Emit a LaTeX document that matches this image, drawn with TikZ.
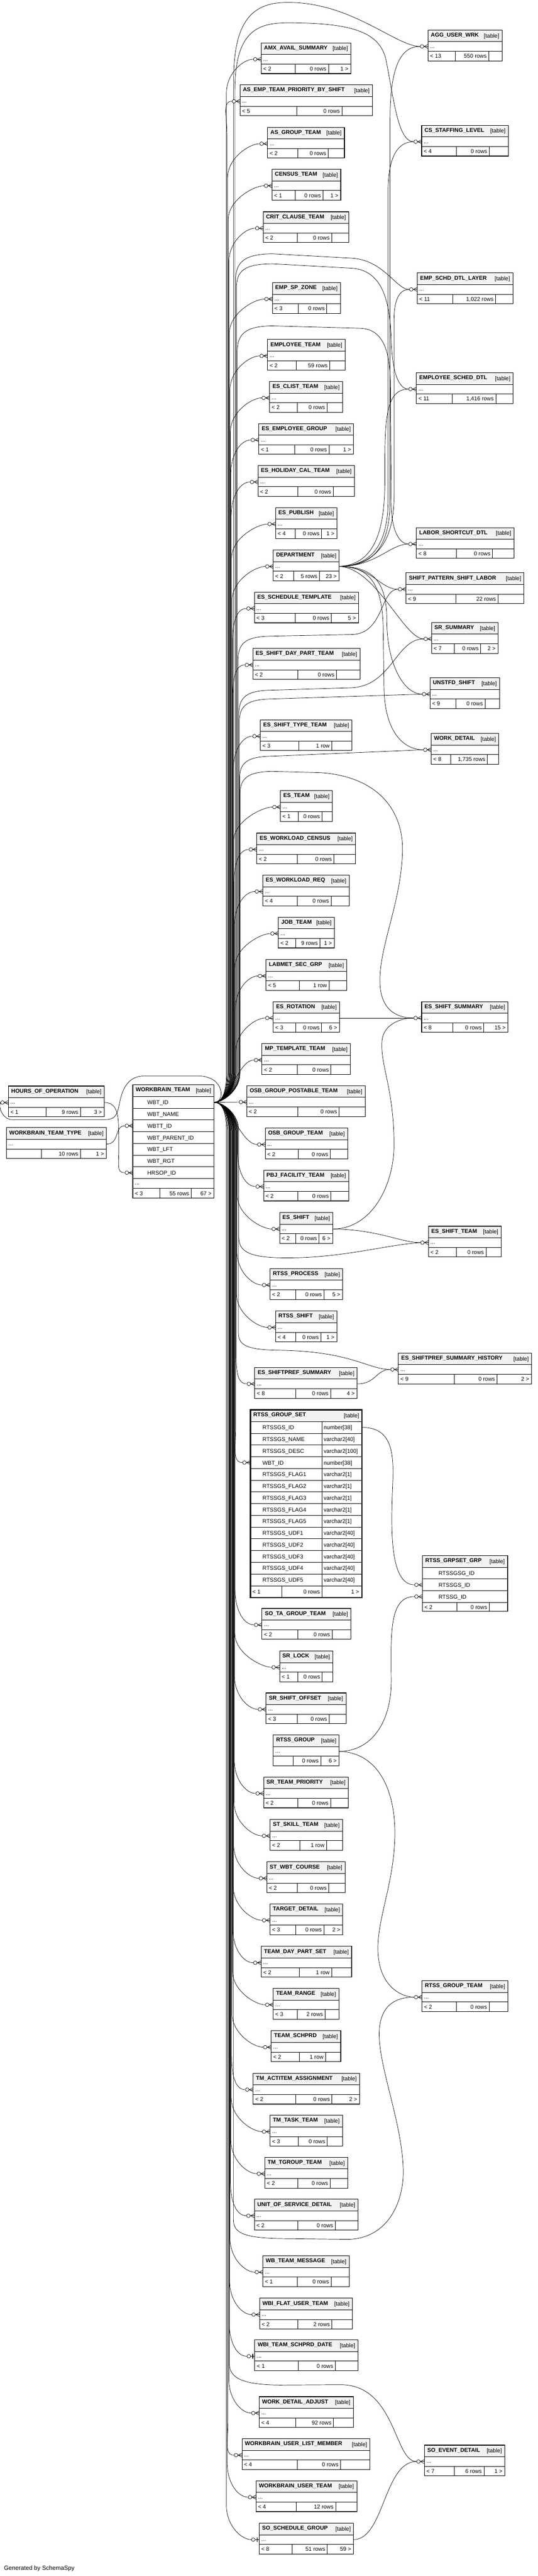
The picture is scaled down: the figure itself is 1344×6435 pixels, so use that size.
\documentclass[tikz,border=0pt]{standalone}
\usepackage{fontspec}
\setmainfont{Liberation Sans}
\usetikzlibrary{calc}
\definecolor{hdr}{HTML}{F2F2F2}
\pgfdeclarelayer{paper}
\pgfdeclarelayer{bg}
\pgfsetlayers{paper,bg,main}
\tikzset{
  edge/.style={draw=black, line width=0.9pt},
  boxline/.style={draw=black, line width=1.4pt},
  cellline/.style={draw=black, line width=1pt},
  tf/.style={font=\fontsize{14}{16}\selectfont, inner sep=0pt},
  tfb/.style={font=\bfseries\fontsize{14}{16}\selectfont, inner sep=0pt},
}
\newcommand{\da}{0.38}
\newcommand{\db}{0.75}
\newcommand{\dv}[2]{\renewcommand{\da}{#1}\renewcommand{\db}{#2}}
% id, x, y, w, name, left, mid, right
\newcommand{\tbl}[8]{%
 \begin{scope}[shift={(#2,#3)}]
  \fill[white] (0,0) rectangle (#4,77);
  \fill[hdr] (0,0) rectangle (#4,29);
  \draw[cellline] (0,29) -- (#4,29) (0,53) -- (#4,53)
     ({\da*#4},53) -- ({\da*#4},77) ({\db*#4},53) -- ({\db*#4},77);
  \draw[boxline] (0,0) rectangle (#4,77);
  \node[tfb, anchor=base west] (#1-name) at (7,17) {\detokenize{#5}};
  \node[tf, anchor=base east] (#1-tag) at (#4-7,19) {[table]};
  \node[tf, anchor=base west] (#1-dots) at (5,45) {...};
  \node[tf, anchor=base west] (#1-l) at (5,70) {#6};
  \node[tf, anchor=base east] (#1-m) at ({\db*#4-5},70) {#7};
  \node[tf, anchor=base east] (#1-r) at (#4-6,70) {#8};
  \coordinate (#1-in) at (0,41);
  \coordinate (#1-a) at (-20,41);
  \coordinate (#1-out) at (#4,41);
 \end{scope}\dv{0.38}{0.75}}
\newcommand{\crow}[1]{%
  \draw[edge] ($(#1-in)+(-10,0)$) -- ($(#1-in)+(0,-5)$);
  \draw[edge] ($(#1-in)+(-10,0)$) -- ($(#1-in)+(0,5)$);
  \draw[edge] ($(#1-in)+(-10.5,0)$) -- (#1-in);
  \draw[edge,fill=white] ($(#1-in)+(-15,0)$) circle[radius=4.5pt];}
\newcommand{\oneo}[1]{%
  \draw[edge] ($(#1-in)+(-10.5,0)$) -- (#1-in);
  \draw[line width=2pt] ($(#1-in)+(-5,-6)$) -- ($(#1-in)+(-5,6)$);
  \draw[edge,fill=white] ($(#1-in)+(-15,0)$) circle[radius=4.5pt];}
\newcommand{\eup}[3]{\draw[edge] (wbt-out) .. controls +(22,0) and +(0,45) .. (#2,2680) -- (#2,#3+85) .. controls +(0,-50) and +(-25,0) .. (#1-a);}
\newcommand{\edn}[3]{\draw[edge] (wbt-out) .. controls +(22,0) and +(0,-45) .. (#2,2826) -- (#2,#3-85) .. controls +(0,50) and +(-25,0) .. (#1-a);}
\newcommand{\edir}[1]{\draw[edge] (wbt-out) .. controls +(40,0) and +(-40,0) .. (#1-a);}
\begin{document}
\begin{tikzpicture}[x=1pt,y=-1pt]
\begin{pgfonlayer}{paper}
\fill[white] (0,0) rectangle (1344,6435);
\end{pgfonlayer}
\useasboundingbox (0,0) rectangle (1344,6435);

% ---------------- middle column ----------------
\tbl{amx}{653}{107}{224}{AMX_AVAIL_SUMMARY}{< 2}{0 rows}{1 >}
\dv{0.43}{0.77}\tbl{asemp}{600}{212}{331}{AS_EMP_TEAM_PRIORITY_BY_SHIFT}{< 5}{0 rows}{}
\dv{0.39}{0.79}\tbl{asg}{669}{318}{192}{AS_GROUP_TEAM}{< 2}{0 rows}{}
\dv{0.34}{0.74}\tbl{cen}{680}{423}{172}{CENSUS_TEAM}{< 1}{0 rows}{1 >}
\dv{0.40}{0.80}\tbl{crit}{658}{529}{214}{CRIT_CLAUSE_TEAM}{< 2}{0 rows}{}
\dv{0.38}{0.80}\tbl{esz}{681}{706}{170}{EMP_SP_ZONE}{< 3}{0 rows}{}
\dv{0.37}{0.80}\tbl{emt}{669}{848}{194}{EMPLOYEE_TEAM}{< 2}{59 rows}{}
\dv{0.38}{0.79}\tbl{ecl}{674}{953}{182}{ES_CLIST_TEAM}{< 2}{0 rows}{}
\dv{0.38}{0.74}\tbl{eeg}{647}{1058}{237}{ES_EMPLOYEE_GROUP}{< 1}{0 rows}{1 >}
\dv{0.41}{0.78}\tbl{ehc}{645}{1163}{241}{ES_HOLIDAY_CAL_TEAM}{< 2}{0 rows}{}
\dv{0.32}{0.75}\tbl{epu}{689}{1268}{153}{ES_PUBLISH}{< 4}{0 rows}{1 >}
\dv{0.31}{0.70}\tbl{dep}{683}{1374}{165}{DEPARTMENT}{< 2}{5 rows}{23 >}
\dv{0.39}{0.74}\tbl{estpl}{636}{1479}{260}{ES_SCHEDULE_TEMPLATE}{< 3}{0 rows}{5 >}
\dv{0.42}{0.78}\tbl{esdp}{632}{1620}{268}{ES_SHIFT_DAY_PART_TEAM}{< 2}{0 rows}{}
\dv{0.42}{0.78}\tbl{estt}{651}{1798}{229}{ES_SHIFT_TYPE_TEAM}{< 3}{1 row}{}
\dv{0.34}{0.80}\tbl{etm}{701}{1975}{130}{ES_TEAM}{< 1}{0 rows}{}
\dv{0.41}{0.78}\tbl{ewc}{642}{2081}{247}{ES_WORKLOAD_CENSUS}{< 2}{0 rows}{}
\dv{0.40}{0.79}\tbl{ewr}{657}{2186}{216}{ES_WORKLOAD_REQ}{< 4}{0 rows}{}
\dv{0.31}{0.74}\tbl{job}{696}{2291}{140}{JOB_TEAM}{< 2}{9 rows}{1 >}
\dv{0.41}{0.78}\tbl{lab}{665}{2397}{202}{LABMET_SEC_GRP}{< 5}{1 row}{}
\dv{0.34}{0.73}\tbl{esr}{683}{2502}{166}{ES_ROTATION}{< 3}{0 rows}{6 >}
\dv{0.40}{0.78}\tbl{mpt}{655}{2607}{221}{MP_TEMPLATE_TEAM}{< 2}{0 rows}{}
\dv{0.43}{0.78}\tbl{ogp}{617}{2712}{296}{OSB_GROUP_POSTABLE_TEAM}{< 2}{0 rows}{}
\dv{0.40}{0.79}\tbl{ogt}{663}{2818}{206}{OSB_GROUP_TEAM}{< 2}{0 rows}{}
\dv{0.40}{0.79}\tbl{pbj}{659}{2923}{213}{PBJ_FACILITY_TEAM}{< 2}{0 rows}{}
\dv{0.30}{0.74}\tbl{esh}{699}{3029}{133}{ES_SHIFT}{< 2}{0 rows}{6 >}
\dv{0.35}{0.74}\tbl{rtp}{675}{3169}{182}{RTSS_PROCESS}{< 2}{0 rows}{5 >}
\dv{0.33}{0.74}\tbl{rts}{689}{3275}{153}{RTSS_SHIFT}{< 4}{0 rows}{1 >}
\dv{0.40}{0.74}\tbl{esp}{637}{3416}{256}{ES_SHIFTPREF_SUMMARY}{< 8}{0 rows}{4 >}
\dv{0.40}{0.79}\tbl{sota}{655}{4018}{222}{SO_TA_GROUP_TEAM}{< 2}{0 rows}{}
\dv{0.34}{0.80}\tbl{srl}{699}{4124}{133}{SR_LOCK}{< 1}{0 rows}{}
\dv{0.39}{0.79}\tbl{srso}{665}{4229}{200}{SR_SHIFT_OFFSET}{< 3}{0 rows}{}
\dv{0.30}{0.72}\tbl{rg}{683}{4334}{165}{RTSS_GROUP}{}{0 rows}{6 >}
\dv{0.40}{0.79}\tbl{srtp}{659}{4439}{212}{SR_TEAM_PRIORITY}{< 2}{0 rows}{}
\dv{0.41}{0.78}\tbl{sts}{675}{4545}{181}{ST_SKILL_TEAM}{< 2}{1 row}{}
\dv{0.39}{0.79}\tbl{stw}{667}{4651}{196}{ST_WBT_COURSE}{< 2}{0 rows}{}
\dv{0.35}{0.74}\tbl{tgd}{675}{4756}{182}{TARGET_DETAIL}{< 3}{0 rows}{2 >}
\dv{0.42}{0.78}\tbl{tdps}{653}{4862}{226}{TEAM_DAY_PART_SET}{< 2}{1 row}{}
\dv{0.37}{0.79}\tbl{trg}{683}{4967}{164}{TEAM_RANGE}{< 3}{2 rows}{}
\dv{0.40}{0.78}\tbl{tsp}{678}{5073}{174}{TEAM_SCHPRD}{< 2}{1 row}{}
\dv{0.40}{0.74}\tbl{tma}{633}{5179}{266}{TM_ACTITEM_ASSIGNMENT}{< 2}{0 rows}{2 >}
\dv{0.39}{0.79}\tbl{tmt}{675}{5284}{181}{TM_TASK_TEAM}{< 3}{0 rows}{}
\dv{0.40}{0.79}\tbl{ttg}{662}{5389}{207}{TM_TGROUP_TEAM}{< 2}{0 rows}{}
\dv{0.42}{0.78}\tbl{uos}{636}{5494}{259}{UNIT_OF_SERVICE_DETAIL}{< 2}{0 rows}{}
\dv{0.40}{0.79}\tbl{wbm}{657}{5635}{216}{WB_TEAM_MESSAGE}{< 1}{0 rows}{}
\dv{0.41}{0.78}\tbl{wfu}{649}{5741}{232}{WBI_FLAT_USER_TEAM}{< 2}{2 rows}{}
\dv{0.42}{0.78}\tbl{wtsd}{637}{5845}{258}{WBI_TEAM_SCHPRD_DATE}{< 1}{0 rows}{}
\dv{0.39}{0.79}\tbl{wda}{648}{5987}{235}{WORK_DETAIL_ADJUST}{< 4}{92 rows}{}
\dv{0.43}{0.77}\tbl{wulm}{605}{6092}{320}{WORKBRAIN_USER_LIST_MEMBER}{< 4}{0 rows}{}
\dv{0.40}{0.79}\tbl{wut}{640}{6197}{252}{WORKBRAIN_USER_TEAM}{< 4}{12 rows}{}
\dv{0.35}{0.72}\tbl{ssg}{648}{6303}{236}{SO_SCHEDULE_GROUP}{< 8}{51 rows}{59 >}

% ---------------- right column ----------------
\dv{0.37}{0.82}\tbl{agg}{1070}{75}{185}{AGG_USER_WRK}{< 13}{550 rows}{}
\dv{0.40}{0.78}\tbl{csl}{1054}{313}{217}{CS_STAFFING_LEVEL}{< 4}{0 rows}{}
\dv{0.37}{0.82}\tbl{esdl}{1043}{682}{239}{EMP_SCHD_DTL_LAYER}{< 11}{1,022 rows}{}
\dv{0.37}{0.82}\tbl{esd}{1041}{931}{242}{EMPLOYEE_SCHED_DTL}{< 11}{1,416 rows}{}
\dv{0.41}{0.78}\tbl{lsd}{1041}{1318}{244}{LABOR_SHORTCUT_DTL}{< 8}{0 rows}{}
\dv{0.42}{0.78}\tbl{spsl}{1015}{1431}{295}{SHIFT_PATTERN_SHIFT_LABOR}{< 9}{22 rows}{}
\dv{0.34}{0.74}\tbl{srs}{1079}{1555}{166}{SR_SUMMARY}{< 7}{0 rows}{2 >}
\dv{0.37}{0.79}\tbl{uns}{1075}{1693}{174}{UNSTFD_SHIFT}{< 9}{0 rows}{}
\dv{0.29}{0.83}\tbl{wd}{1078}{1832}{169}{WORK_DETAIL}{< 8}{1,735 rows}{}
\dv{0.36}{0.72}\tbl{ess}{1054}{2502}{216}{ES_SHIFT_SUMMARY}{< 8}{0 rows}{15 >}
\dv{0.38}{0.79}\tbl{esst}{1071}{3063}{182}{ES_SHIFT_TEAM}{< 2}{0 rows}{}
\dv{0.42}{0.74}\tbl{hist}{996}{3380}{333}{ES_SHIFTPREF_SUMMARY_HISTORY}{< 9}{0 rows}{2 >}
\dv{0.40}{0.78}\tbl{rgt}{1055}{4948}{215}{RTSS_GROUP_TEAM}{< 2}{0 rows}{}
\dv{0.37}{0.74}\tbl{sed}{1061}{6108}{201}{SO_EVENT_DETAIL}{< 7}{6 rows}{1 >}

% ---------------- left ----------------
\dv{0.39}{0.75}\tbl{hoo}{21}{2713}{240}{HOURS_OF_OPERATION}{< 1}{9 rows}{3 >}
\dv{0.35}{0.74}\tbl{wtt}{16}{2817}{250}{WORKBRAIN_TEAM_TYPE}{}{10 rows}{1 >}

% WORKBRAIN_TEAM
\begin{scope}[shift={(332,2710)}]
 \fill[white] (0,0) rectangle (203,283);
 \fill[hdr] (0,0) rectangle (203,29);
 \foreach \i in {0,...,7} \draw[cellline] (0,29+29.3*\i) -- (203,29+29.3*\i);
 \draw[cellline] (0,258) -- (203,258) (67,258) -- (67,283) (146,258) -- (146,283);
 \draw[boxline] (0,0) rectangle (203,283);
 \node[tfb,anchor=base west] (wbt-name) at (7,17) {WORKBRAIN\_TEAM};
 \node[tf,anchor=base east] (wbt-tag) at (196,19) {[table]};
 \node[tf,anchor=base west] (wbt-c1) at (36,49) {WBT\_ID};
 \node[tf,anchor=base west] (wbt-c2) at (36,78.3) {WBT\_NAME};
 \node[tf,anchor=base west] (wbt-c3) at (36,107.6) {WBTT\_ID};
 \node[tf,anchor=base west] (wbt-c4) at (36,136.9) {WBT\_PARENT\_ID};
 \node[tf,anchor=base west] (wbt-c5) at (36,166.2) {WBT\_LFT};
 \node[tf,anchor=base west] (wbt-c6) at (36,195.5) {WBT\_RGT};
 \node[tf,anchor=base west] (wbt-c7) at (36,224.8) {HRSOP\_ID};
 \node[tf,anchor=base west] (wbt-dots) at (5,250) {...};
 \node[tf,anchor=base west] (wbt-l) at (5,276) {< 3};
 \node[tf,anchor=base east] (wbt-m) at (141,276) {55 rows};
 \node[tf,anchor=base east] (wbt-r) at (197,276) {67 >};
 \coordinate (wbt-out) at (203,43.65);
 \coordinate (wbtt-in) at (0,102.25);
 \coordinate (wbtt-a) at (-20,102.25);
 \coordinate (hrsop-in) at (0,219.45);
 \coordinate (hrsop-a) at (-20,219.45);
\end{scope}

% RTSS_GROUP_SET
\begin{scope}[shift={(626,3522)}]
 \fill[white] (0,0) rectangle (279,469);
 \fill[hdr] (0,0) rectangle (279,29);
 \foreach \i in {0,...,14} \draw[cellline] (0,29+29.3*\i) -- (279,29+29.3*\i);
 \draw[cellline] (179,29) -- (179,469) (78,439.2) -- (78,469);
 \draw[line width=3pt] (0,0) rectangle (279,469);
 \node[tfb,anchor=base west] (rgs-name) at (7,17) {RTSS\_GROUP\_SET};
 \node[tf,anchor=base east] (rgs-tag) at (272,19) {[table]};
 \foreach \n/\t [count=\k from 0] in {RTSSGS\_ID/number[38], RTSSGS\_NAME/varchar2[40], RTSSGS\_DESC/varchar2[100], WBT\_ID/number[38], RTSSGS\_FLAG1/varchar2[1], RTSSGS\_FLAG2/varchar2[1], RTSSGS\_FLAG3/varchar2[1], RTSSGS\_FLAG4/varchar2[1], RTSSGS\_FLAG5/varchar2[1], RTSSGS\_UDF1/varchar2[40], RTSSGS\_UDF2/varchar2[40], RTSSGS\_UDF3/varchar2[40], RTSSGS\_UDF4/varchar2[40], RTSSGS\_UDF5/varchar2[40]} {
   \node[tf,anchor=base west] (rgs-c\k) at (30,49+29.3*\k) {\n};
   \node[tf,anchor=base west] (rgs-t\k) at (183,49+29.3*\k) {\t};
 }
 \node[tf,anchor=base west] (rgs-l) at (5,459) {< 1};
 \node[tf,anchor=base east] (rgs-m) at (174,459) {0 rows};
 \node[tf,anchor=base east] (rgs-r) at (272,459) {1 >};
 \coordinate (rgs-out) at (279,43.65);
 \coordinate (rgs-in) at (0,131.55);
 \coordinate (rgs-a) at (-20,131.55);
\end{scope}

% RTSS_GRPSET_GRP
\begin{scope}[shift={(1056,3886)}]
 \fill[white] (0,0) rectangle (213,139);
 \fill[hdr] (0,0) rectangle (213,29);
 \foreach \i in {0,...,3} \draw[cellline] (0,29+29.3*\i) -- (213,29+29.3*\i);
 \draw[cellline] (86,116.9) -- (86,139) (167,116.9) -- (167,139);
 \draw[boxline] (0,0) rectangle (213,139);
 \node[tfb,anchor=base west] (rgg-name) at (7,17) {RTSS\_GRPSET\_GRP};
 \node[tf,anchor=base east] (rgg-tag) at (206,19) {[table]};
 \node[tf,anchor=base west] (rgg-c1) at (40,49) {RTSSGSG\_ID};
 \node[tf,anchor=base west] (rgg-c2) at (40,78.3) {RTSSGS\_ID};
 \node[tf,anchor=base west] (rgg-c3) at (40,107.6) {RTSSG\_ID};
 \node[tf,anchor=base west] (rgg-l) at (5,134) {< 2};
 \node[tf,anchor=base east] (rgg-m) at (162,134) {0 rows};
 \node[tf,anchor=base east] (rgg-r) at (207,134) {};
 \coordinate (rgg2-in) at (0,72.95);
 \coordinate (rgg2-a) at (-20,72.95);
 \coordinate (rgg3-in) at (0,102.25);
 \coordinate (rgg3-a) at (-20,102.25);
\end{scope}

\node[anchor=base west, font=\fontsize{15}{17}\selectfont, inner sep=0pt] (gen) at (10,6420) {Generated by SchemaSpy};

% ---------------- connectors ----------------
\begin{pgfonlayer}{bg}
% WORKBRAIN_TEAM to middle column (above)
\eup{amx}{566}{148}
\eup{asemp}{567.5}{253}
\eup{asg}{569}{359}
\eup{cen}{570.5}{464}
\eup{crit}{572}{570}
\eup{esz}{573.5}{747}
\eup{emt}{575}{889}
\eup{ecl}{576}{994}
\eup{eeg}{577}{1099}
\eup{ehc}{578}{1204}
\eup{epu}{579}{1309}
\eup{dep}{580}{1415}
\eup{estpl}{581}{1520}
\eup{esdp}{582}{1661}
\eup{estt}{583}{1839}
\eup{etm}{584}{2016}
\eup{ewc}{585}{2122}
\eup{ewr}{586}{2227}
\eup{job}{587}{2332}
\eup{lab}{588}{2438}
\eup{esr}{589}{2543}
\edir{mpt}
\draw[edge] (wbt-out) -- (ogp-a);
\edir{ogt}
% below
\edn{pbj}{594}{2964}
\edn{esh}{593}{3070}
\edn{rtp}{592}{3210}
\edn{rts}{591}{3316}
\edn{esp}{590}{3457}
\edn{rgs}{589}{3654}
\edn{sota}{588}{4059}
\edn{srl}{587}{4165}
\edn{srso}{586}{4270}
\edn{srtp}{585.5}{4480}
\edn{sts}{585}{4586}
\edn{stw}{584}{4692}
\edn{tgd}{583}{4797}
\edn{tdps}{582}{4903}
\edn{trg}{581}{5008}
\edn{tsp}{580}{5114}
\edn{tma}{579}{5220}
\edn{tmt}{578}{5325}
\edn{ttg}{577}{5430}
\edn{uos}{576}{5535}
\edn{wbm}{575}{5676}
\edn{wfu}{574}{5782}
\edn{wtsd}{573}{5886}
\edn{wda}{572}{6028}
\edn{wulm}{570}{6133}
\edn{wut}{568}{6238}
\edn{ssg}{566}{6344}
% WORKBRAIN_TEAM to right column
\draw[edge] (wbt-out) .. controls +(22,0) and +(0,45) .. (584,2680) -- (584,200) .. controls (584,40) and (640,6) .. (720,6) .. controls (880,6) and (990,116) .. (agg-a);
\draw[edge] (wbt-out) .. controls +(22,0) and +(0,45) .. (587,2680) -- (587,230) .. controls (587,80) and (640,57) .. (720,57) .. controls (880,57) and (950,80) .. (965,150) .. controls (985,250) and (995,354) .. (csl-a);
\draw[edge] (wbt-out) .. controls +(22,0) and +(0,45) .. (589,2680) -- (589,700) .. controls (589,655) and (610,635) .. (680,634) -- (880,645) .. controls (960,650) and (990,723) .. (esdl-a);
\draw[edge] (wbt-out) .. controls +(22,0) and +(0,45) .. (591,2680) -- (591,720) .. controls (591,675) and (612,660) .. (680,659) -- (880,670) .. controls (960,676) and (975,760) .. (978,850) .. controls (981,940) and (1000,972) .. (esd-a);
\draw[edge] (wbt-out) .. controls +(22,0) and +(0,45) .. (593,2680) -- (593,880) .. controls (593,835) and (612,815) .. (680,814) -- (900,820) .. controls (960,822) and (975,880) .. (976,960) -- (978,1260) .. controls (979,1330) and (1000,1359) .. (lsd-a);
\draw[edge] (wbt-out) .. controls +(22,0) and +(0,45) .. (595,2680) -- (595,1650) .. controls (595,1605) and (615,1590) .. (680,1589) -- (880,1585) .. controls (960,1583) and (950,1472) .. (spsl-a);
\draw[edge] (wbt-out) .. controls +(22,0) and +(0,45) .. (597,2680) -- (597,1785) .. controls (597,1740) and (617,1725) .. (680,1724) -- (880,1718) .. controls (980,1712) and (990,1596) .. (srs-a);
\draw[edge] (wbt-out) .. controls +(22,0) and +(0,45) .. (598,2680) -- (598,1805) .. controls (598,1762) and (618,1747) .. (680,1746) -- (uns-a);
\draw[edge] (wbt-out) .. controls +(22,0) and +(0,45) .. (599,2680) -- (599,1945) .. controls (599,1905) and (618,1890) .. (680,1889) -- (wd-a);
\draw[edge] (wbt-out) .. controls +(22,0) and +(0,45) .. (600,2680) -- (600,1985) .. controls (600,1943) and (620,1928) .. (680,1927) -- (800,1930) .. controls (950,1940) and (1010,2030) .. (1006,2130) .. controls (1002,2260) and (945,2370) .. (950,2460) .. controls (954,2530) and (1000,2543) .. (ess-a);
\draw[edge] (wbt-out) .. controls +(22,0) and +(0,-45) .. (597,2826) -- (597,3090) .. controls (597,3125) and (620,3140) .. (700,3142) .. controls (850,3145) and (960,3110) .. (esst-a);
\draw[edge] (wbt-out) .. controls +(22,0) and +(0,-45) .. (596,2826) -- (596,3330) .. controls (596,3362) and (620,3372) .. (700,3373) .. controls (880,3376) and (920,3421) .. (hist-a);
\draw[edge] (wbt-out) .. controls +(22,0) and +(0,-45) .. (583.5,2826) -- (583.5,5545) .. controls (583.5,5578) and (610,5590) .. (700,5592) -- (870,5594) .. controls (970,5592) and (1010,5500) .. (1008,5420) .. controls (1005,5300) and (945,5160) .. (948,5075) .. controls (951,5000) and (1000,4989) .. (rgt-a);
\draw[edge] (wbt-out) .. controls +(22,0) and +(0,-45) .. (573.5,2826) -- (573.5,5905) .. controls (573.5,5942) and (610,5957) .. (700,5958) -- (850,5957) .. controls (990,5956) and (985,6149) .. (sed-a);
% WORKBRAIN_TEAM to HOURS_OF_OPERATION
\draw[edge] (wbt-out) .. controls (565,2753) and (560,2690) .. (500,2688) -- (360,2688) .. controls (320,2688) and (305,2720) .. (298,2760) .. controls (292,2790) and (285,2797) .. (260,2797) -- (30,2797) .. controls (10,2797) and (-5,2770) .. (hoo-a);
% parents of WORKBRAIN_TEAM
\draw[edge] (wtt-out) .. controls (300,2858) and (285,2812) .. (wbtt-a);
\draw[edge] (hoo-out) .. controls (300,2754) and (296,2800) .. (297,2850) .. controls (298,2915) and (290,2929) .. (hrsop-a);
% DEPARTMENT
\draw[edge] (dep-out) .. controls (930,1415) and (975,1370) .. (975,1250) -- (975,300) .. controls (975,170) and (1000,116) .. (agg-a);
\draw[edge] (dep-out) .. controls (925,1413) and (970,1365) .. (970,1250) -- (970,480) .. controls (970,390) and (995,354) .. (csl-a);
\draw[edge] (dep-out) .. controls (935,1412) and (985,1360) .. (985,1240) -- (985,800) .. controls (985,745) and (1000,723) .. (esdl-a);
\draw[edge] (dep-out) .. controls (935,1410) and (962,1330) .. (962,1200) .. controls (962,1060) and (960,972) .. (esd-a);
\draw[edge] (dep-out) .. controls (940,1415) and (975,1359) .. (lsd-a);
\draw[edge] (dep-out) .. controls (930,1415) and (950,1472) .. (spsl-a);
\draw[edge] (dep-out) .. controls (940,1418) and (1010,1596) .. (srs-a);
\draw[edge] (dep-out) .. controls (930,1415) and (967,1450) .. (967,1550) .. controls (967,1660) and (1010,1734) .. (uns-a);
\draw[edge] (dep-out) .. controls (925,1415) and (958,1460) .. (958,1580) -- (960,1720) .. controls (962,1830) and (1010,1873) .. (wd-a);
% others
\draw[edge] (esr-out) -- (ess-a);
\draw[edge] (esh-out) .. controls (930,3070) and (985,2960) .. (985,2860) .. controls (985,2720) and (950,2660) .. (955,2600) .. controls (958,2560) and (1000,2543) .. (ess-a);
\draw[edge] (esh-out) .. controls (950,3072) and (1000,3104) .. (esst-a);
\draw[edge] (esp-out) .. controls (940,3457) and (940,3421) .. (hist-a);
\draw[edge] (rgs-out) .. controls (975,3566) and (985,3620) .. (982,3700) .. controls (978,3800) and (970,3959) .. (rgg2-a);
\draw[edge] (rg-out) .. controls (930,4375) and (978,4300) .. (978,4200) .. controls (978,4090) and (970,3988) .. (rgg3-a);
\draw[edge] (rg-out) .. controls (950,4378) and (990,4480) .. (987,4590) .. controls (984,4710) and (940,4800) .. (945,4880) .. controls (950,4960) and (1000,4988) .. (rgt-a);
\draw[edge] (ssg-out) .. controls (960,6344) and (960,6149) .. (sed-a);
\end{pgfonlayer}

% ---------------- end markers ----------------
\foreach \m in {amx,asemp,asg,cen,crit,esz,emt,ecl,eeg,ehc,epu,dep,estpl,esdp,estt,etm,ewc,ewr,job,lab,esr,mpt,ogp,ogt,pbj,esh,rtp,rts,esp,rgs,sota,srl,srso,srtp,sts,stw,tgd,tdps,trg,tsp,tma,tmt,ttg,uos,wbm,wfu,wda,wulm,wut,agg,csl,esdl,esd,lsd,spsl,srs,uns,wd,ess,esst,hist,rgg2,rgg3,rgt,sed,wbtt,hrsop,hoo} {\crow{\m}}
\oneo{wtsd}
\oneo{ssg}
\end{tikzpicture}
\end{document}
